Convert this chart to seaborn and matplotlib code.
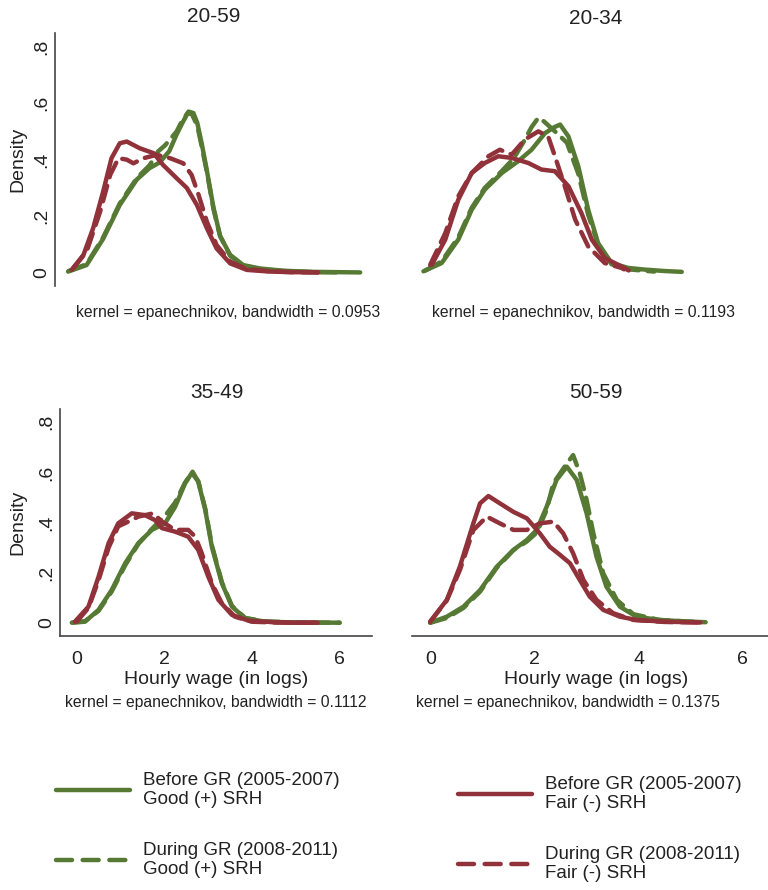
import pandas as pd
import seaborn as sns
import matplotlib.pyplot as plt
from matplotlib.lines import Line2D

# ---- data (log hourly wage vs kernel density) ----
# panel 20-59
a_good_pre_x = [-0.11, 0.31, 0.69, 1.07, 1.46, 1.75, 1.98, 2.20, 2.37, 2.50, 2.64, 2.75, 2.84, 2.95, 3.06, 3.21, 3.36, 3.59, 3.89, 4.27, 4.8, 5.5, 6.56]
a_good_pre_y = [0.004, 0.027, 0.12, 0.24, 0.33, 0.37, 0.39, 0.43, 0.49, 0.53, 0.57, 0.565, 0.53, 0.45, 0.36, 0.23, 0.13, 0.063, 0.027, 0.015, 0.007, 0.003, 0.001]
a_good_dur_x = [-0.1, 0.31, 0.69, 1.07, 1.46, 1.75, 1.95, 2.10, 2.37, 2.50, 2.62, 2.72, 2.84, 2.95, 3.06, 3.21, 3.36, 3.59, 3.89, 4.27, 4.8, 5.5, 6.2]
a_good_dur_y = [0.006, 0.03, 0.125, 0.245, 0.335, 0.38, 0.43, 0.45, 0.50, 0.54, 0.565, 0.56, 0.52, 0.44, 0.355, 0.225, 0.13, 0.06, 0.025, 0.013, 0.006, 0.002, 0.001]
a_fair_pre_x = [-0.03, 0.24, 0.46, 0.69, 0.88, 1.07, 1.23, 1.53, 1.84, 2.06, 2.37, 2.60, 2.83, 3.06, 3.28, 3.59, 3.97, 4.5, 5.0, 5.6]
a_fair_pre_y = [0.01, 0.063, 0.157, 0.287, 0.405, 0.458, 0.464, 0.44, 0.423, 0.381, 0.334, 0.30, 0.24, 0.157, 0.086, 0.033, 0.01, 0.004, 0.002, 0.001]
a_fair_dur_x = [0.0, 0.31, 0.62, 0.85, 1.04, 1.23, 1.38, 1.61, 1.91, 2.22, 2.52, 2.71, 2.87, 3.06, 3.28, 3.59, 3.97, 4.5, 5.0, 5.6]
a_fair_dur_y = [0.015, 0.074, 0.216, 0.346, 0.405, 0.40, 0.387, 0.405, 0.417, 0.405, 0.387, 0.346, 0.275, 0.18, 0.098, 0.039, 0.013, 0.005, 0.002, 0.001]

# panel 20-34
b_good_pre_x = [-0.14, 0.21, 0.53, 0.79, 1.04, 1.37, 1.68, 1.94, 2.20, 2.38, 2.49, 2.65, 2.84, 3.03, 3.22, 3.48, 3.80, 4.12, 4.5, 4.83]
b_good_pre_y = [0.005, 0.034, 0.117, 0.223, 0.294, 0.353, 0.394, 0.435, 0.494, 0.515, 0.524, 0.482, 0.376, 0.223, 0.105, 0.034, 0.017, 0.011, 0.006, 0.003]
b_good_dur_x = [-0.1, 0.21, 0.53, 0.79, 1.04, 1.37, 1.60, 1.81, 1.94, 2.07, 2.18, 2.30, 2.45, 2.62, 2.84, 3.03, 3.22, 3.48, 3.8, 4.3]
b_good_dur_y = [0.008, 0.04, 0.125, 0.23, 0.30, 0.36, 0.405, 0.47, 0.515, 0.548, 0.535, 0.515, 0.49, 0.46, 0.35, 0.205, 0.10, 0.03, 0.012, 0.004]
b_fair_pre_x = [0.02, 0.28, 0.53, 0.79, 1.04, 1.30, 1.56, 1.88, 2.13, 2.39, 2.65, 2.90, 3.10, 3.35, 3.67, 3.81]
b_fair_pre_y = [0.028, 0.117, 0.258, 0.353, 0.388, 0.412, 0.406, 0.388, 0.365, 0.359, 0.306, 0.211, 0.117, 0.052, 0.022, 0.008]
b_fair_dur_x = [-0.01, 0.28, 0.53, 0.79, 1.11, 1.33, 1.56, 1.81, 2.07, 2.26, 2.39, 2.58, 2.78, 3.03, 3.35, 3.67, 3.72]
b_fair_dur_y = [0.028, 0.14, 0.27, 0.353, 0.412, 0.435, 0.418, 0.471, 0.50, 0.482, 0.412, 0.306, 0.188, 0.093, 0.034, 0.017, 0.012]

# panel 35-49
c_good_pre_x = [-0.12, 0.18, 0.49, 0.79, 1.10, 1.40, 1.71, 2.01, 2.24, 2.47, 2.64, 2.77, 2.93, 3.08, 3.31, 3.54, 3.84, 4.30, 5.0, 6.0]
c_good_pre_y = [0.001, 0.005, 0.052, 0.131, 0.238, 0.318, 0.371, 0.397, 0.463, 0.557, 0.603, 0.563, 0.45, 0.304, 0.158, 0.065, 0.019, 0.005, 0.002, 0.001]
c_good_dur_x = [-0.1, 0.18, 0.49, 0.79, 1.10, 1.40, 1.71, 2.01, 2.24, 2.47, 2.62, 2.77, 2.93, 3.08, 3.31, 3.54, 3.84, 4.30, 5.0, 6.0]
c_good_dur_y = [0.002, 0.007, 0.048, 0.125, 0.23, 0.315, 0.375, 0.427, 0.48, 0.56, 0.598, 0.565, 0.455, 0.31, 0.162, 0.068, 0.02, 0.006, 0.002, 0.001]
c_fair_pre_x = [-0.05, 0.26, 0.49, 0.72, 0.94, 1.25, 1.55, 1.78, 1.94, 2.24, 2.54, 2.77, 3.0, 3.23, 3.54, 3.92, 4.5, 5.0, 5.5]
c_fair_pre_y = [0.005, 0.065, 0.184, 0.318, 0.397, 0.437, 0.43, 0.41, 0.378, 0.364, 0.344, 0.291, 0.184, 0.092, 0.032, 0.009, 0.003, 0.001, 0.001]
c_fair_dur_x = [-0.01, 0.26, 0.49, 0.72, 0.94, 1.17, 1.40, 1.74, 1.94, 2.24, 2.54, 2.70, 2.85, 3.08, 3.31, 3.61, 3.99, 4.5, 5.0, 5.5]
c_fair_dur_y = [0.005, 0.06, 0.17, 0.30, 0.385, 0.404, 0.424, 0.437, 0.404, 0.371, 0.371, 0.344, 0.278, 0.158, 0.078, 0.025, 0.005, 0.002, 0.001, 0.001]

# panel 50-59
d_good_pre_x = [-0.01, 0.31, 0.63, 0.95, 1.27, 1.59, 1.85, 2.04, 2.23, 2.42, 2.62, 2.81, 3.0, 3.19, 3.38, 3.64, 3.96, 4.4, 4.9, 5.29]
d_good_pre_y = [0.001, 0.025, 0.065, 0.131, 0.224, 0.291, 0.331, 0.371, 0.463, 0.57, 0.623, 0.57, 0.437, 0.264, 0.145, 0.065, 0.025, 0.012, 0.006, 0.003]
d_good_dur_x = [-0.01, 0.31, 0.63, 0.95, 1.27, 1.59, 1.85, 2.04, 2.23, 2.36, 2.62, 2.74, 2.87, 3.0, 3.13, 3.32, 3.58, 3.9, 4.4, 5.2]
d_good_dur_y = [0.001, 0.02, 0.06, 0.125, 0.22, 0.29, 0.325, 0.36, 0.45, 0.557, 0.636, 0.669, 0.596, 0.49, 0.357, 0.198, 0.092, 0.035, 0.012, 0.003]
d_fair_pre_x = [-0.01, 0.31, 0.56, 0.82, 0.95, 1.11, 1.33, 1.59, 1.85, 2.10, 2.29, 2.49, 2.68, 2.87, 3.06, 3.32, 3.64, 3.96, 4.5, 5.19]
d_fair_pre_y = [0.005, 0.092, 0.224, 0.397, 0.477, 0.506, 0.477, 0.443, 0.417, 0.357, 0.304, 0.271, 0.238, 0.171, 0.105, 0.052, 0.025, 0.012, 0.005, 0.002]
d_fair_dur_x = [-0.01, 0.31, 0.56, 0.82, 1.08, 1.33, 1.59, 1.85, 2.10, 2.36, 2.55, 2.74, 2.94, 3.19, 3.51, 3.90, 4.5, 5.19]
d_fair_dur_y = [0.005, 0.09, 0.21, 0.37, 0.424, 0.397, 0.371, 0.371, 0.397, 0.404, 0.357, 0.278, 0.171, 0.092, 0.039, 0.012, 0.004, 0.002]

panels = ["20-59", "20-34", "35-49", "50-59"]
bandwidths = ["0.0953", "0.1193", "0.1112", "0.1375"]
y_ticks = [0, 0.2, 0.4, 0.6, 0.8]
y_ticklabels = ["0", ".2", ".4", ".6", ".8"]
x_ticks = [0, 2, 4, 6]

series = {
    "20-59": [(a_good_pre_x, a_good_pre_y, "Good", "Before"), (a_good_dur_x, a_good_dur_y, "Good", "During"),
              (a_fair_pre_x, a_fair_pre_y, "Fair", "Before"), (a_fair_dur_x, a_fair_dur_y, "Fair", "During")],
    "20-34": [(b_good_pre_x, b_good_pre_y, "Good", "Before"), (b_good_dur_x, b_good_dur_y, "Good", "During"),
              (b_fair_pre_x, b_fair_pre_y, "Fair", "Before"), (b_fair_dur_x, b_fair_dur_y, "Fair", "During")],
    "35-49": [(c_good_pre_x, c_good_pre_y, "Good", "Before"), (c_good_dur_x, c_good_dur_y, "Good", "During"),
              (c_fair_pre_x, c_fair_pre_y, "Fair", "Before"), (c_fair_dur_x, c_fair_dur_y, "Fair", "During")],
    "50-59": [(d_good_pre_x, d_good_pre_y, "Good", "Before"), (d_good_dur_x, d_good_dur_y, "Good", "During"),
              (d_fair_pre_x, d_fair_pre_y, "Fair", "Before"), (d_fair_dur_x, d_fair_dur_y, "Fair", "During")],
}

rows = []
for p, lst in series.items():
    for xs, ys, srh, period in lst:
        for x, y in zip(xs, ys):
            rows.append({"panel": p, "srh": srh, "period": period, "wage": x, "density": y})
df = pd.DataFrame(rows)

GREEN = "#567a34"
RED = "#91323a"
AXC = "#444444"
TXT = "#222222"
palette = {"Good": GREEN, "Fair": RED}
dash_map = {"Before": "", "During": (3.6, 2.0)}

sns.set_style("white")
plt.rcParams["font.family"] = ["Liberation Sans", "DejaVu Sans"]

W, H = 768, 890
fig = plt.figure(figsize=(W / 100, H / 100), dpi=100)


def box(l, t, r, b):
    return [l / W, 1 - b / H, (r - l) / W, (b - t) / H]


# layout in pixels: axes box, xlim, ylim, title pos, note pos, which axes shown
layout = {
    "20-59": dict(box=box(55, 33, 372, 286), xlim=(-0.41, 6.83), ylim=(-0.047, 0.848),
                  title=(214, 17), note=(228, 313), yax=True, xax=False, ylab_x=-0.09),
    "20-34": dict(box=box(412, 33, 768, 286), xlim=(-0.36, 6.49), ylim=(-0.047, 0.848),
                  title=(596, 18), note=(584, 313), yax=False, xax=False),
    "35-49": dict(box=box(60, 409, 372, 636), xlim=(-0.39, 6.74), ylim=(-0.052, 0.853),
                  title=(217, 393), note=(216, 703), yax=True, xax=True, ylab_x=-0.107, xlab_x=0.5),
    "50-59": dict(box=box(412, 409, 768, 636), xlim=(-0.36, 6.49), ylim=(-0.052, 0.853),
                  title=(596, 393), note=(568, 703), yax=False, xax=True, xlab_x=0.517),
}

for p, bw in zip(panels, bandwidths):
    lay = layout[p]
    ax = fig.add_axes(lay["box"])
    sub = df[df["panel"] == p]
    sns.lineplot(data=sub, x="wage", y="density", hue="srh", style="period",
                 palette=palette, dashes=dash_map, estimator=None, sort=False,
                 linewidth=3.2, legend=False, ax=ax,
                 solid_capstyle="round", dash_capstyle="round", solid_joinstyle="round")
    ax.set_xlim(*lay["xlim"])
    ax.set_ylim(*lay["ylim"])
    for s in ["top", "right"]:
        ax.spines[s].set_visible(False)
    ax.spines["left"].set_visible(lay["yax"])
    ax.spines["bottom"].set_visible(lay["xax"])
    for s in ["left", "bottom"]:
        ax.spines[s].set_color(AXC)
        ax.spines[s].set_linewidth(1.2)

    ax.tick_params(axis="both", which="both", length=5.5, width=1.2, color=AXC,
                   labelsize=14, labelcolor=TXT, direction="out")
    if lay["yax"]:
        ax.set_yticks(y_ticks)
        ax.set_yticklabels(y_ticklabels, rotation=90, va="center")
        ax.tick_params(axis="y", pad=-2)
        ax.set_ylabel("Density", fontsize=14, color=TXT)
        ax.yaxis.set_label_coords(lay["ylab_x"], 0.5)
    else:
        ax.set_yticks([])
        ax.set_ylabel("")
    if lay["xax"]:
        ax.set_xticks(x_ticks)
        ax.set_xticklabels([str(t) for t in x_ticks])
        ax.tick_params(axis="x", pad=5)
        ax.set_xlabel("Hourly wage (in logs)", fontsize=14, color=TXT)
        ax.xaxis.set_label_coords(lay["xlab_x"], -0.155)
    else:
        ax.set_xticks([])
        ax.set_xlabel("")

    fig.text(lay["title"][0] / W, 1 - lay["title"][1] / H, p, ha="center", va="center",
             fontsize=15, color=TXT)
    fig.text(lay["note"][0] / W, 1 - lay["note"][1] / H,
             f"kernel = epanechnikov, bandwidth = {bw}", ha="center", va="center",
             fontsize=11.3, color=TXT)

# legend, two columns
lab_good = ["Before GR (2005-2007)\nGood (+) SRH", "During GR (2008-2011)\nGood (+) SRH"]
lab_fair = ["Before GR (2005-2007)\nFair (-) SRH", "During GR (2008-2011)\nFair (-) SRH"]


def handles(color):
    return [Line2D([], [], color=color, lw=3.2, solid_capstyle="round"),
            Line2D([], [], color=color, lw=3.2, linestyle=(0, (3.6, 2.4)), dash_capstyle="round")]


for hs, labs, (lx, ty) in [(handles(GREEN), lab_good, (56, 772)), (handles(RED), lab_fair, (458, 776))]:
    leg = fig.legend(hs, labs, loc="upper left", bbox_to_anchor=(lx / W, 1 - ty / H),
                     frameon=False, fontsize=13.5, handlelength=3.95, handletextpad=0.68,
                     labelspacing=1.85, borderpad=0, borderaxespad=0)
    for t in leg.get_texts():
        t.set_linespacing(1.12)
        t.set_color(TXT)

fig.savefig("out.png", dpi=100, facecolor="white")
